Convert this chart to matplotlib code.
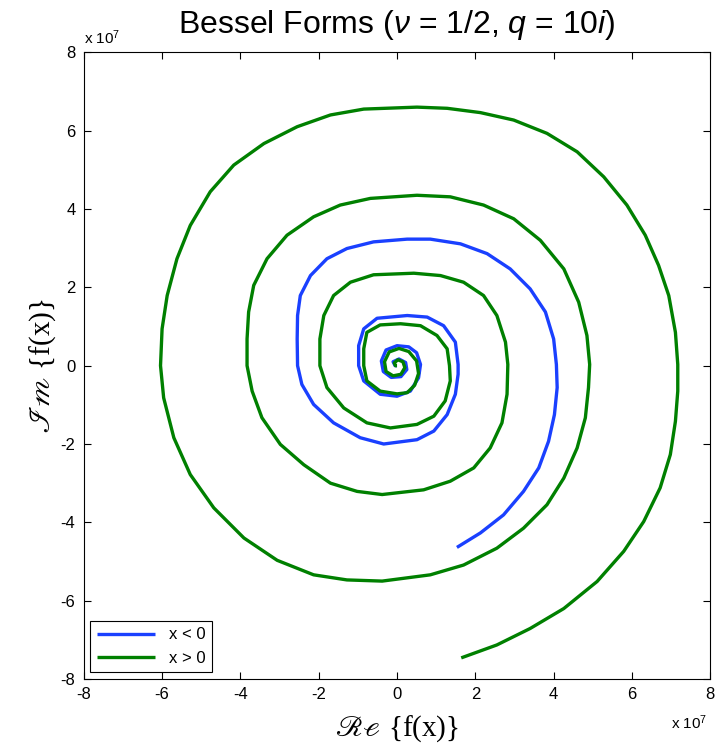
import matplotlib
matplotlib.use("Agg")
import matplotlib.pyplot as plt

# values, in units of 1e7 (outer end -> centre)
neg_re = [1.53, 2.13, 2.72, 3.23, 3.62, 3.87, 4.02, 4.09, 4.07, 4.00, 3.79, 3.40,
          2.89, 2.30, 1.62, 0.85, 0.26, -0.60, -1.28, -1.79, -2.21, -2.47, -2.54,
          -2.55, -2.54, -2.43, -2.13, -1.62, -0.94, -0.34, 0.51, 0.94, 1.28, 1.49,
          1.56, 1.56, 1.49, 1.19, 0.77, 0.26, -0.51, -0.85, -0.98, -0.98, -0.85,
          -0.43, 0.00, 0.34, 0.55, 0.60, 0.50, 0.30, 0.00, -0.28, -0.40, -0.35,
          -0.15, 0.10, 0.25, 0.22, 0.05, -0.10, -0.05, 0.00]
neg_im = [-4.64, -4.27, -3.81, -3.21, -2.61, -1.93, -1.25, -0.56, 0.03, 0.68, 1.37, 1.96,
          2.47, 2.86, 3.11, 3.23, 3.23, 3.16, 2.99, 2.73, 2.30, 1.79, 1.28,
          0.68, 0.00, -0.48, -0.99, -1.46, -1.84, -2.00, -1.89, -1.67, -1.25, -0.73,
          -0.22, 0.03, 0.60, 1.02, 1.24, 1.28, 1.21, 0.94, 0.51, 0.00, -0.39,
          -0.73, -0.78, -0.65, -0.31, 0.03, 0.33, 0.48, 0.51, 0.40, 0.12, -0.15,
          -0.30, -0.28, -0.10, 0.08, 0.17, 0.10, 0.00, 0.00]

pos_re = [1.64, 2.55, 3.40, 4.26, 5.11, 5.79, 6.30, 6.72, 6.98, 7.11, 7.17, 7.17,
          7.11, 6.94, 6.68, 6.34, 5.87, 5.28, 4.60, 3.83, 2.98, 2.13, 1.28, 0.51,
          -0.85, -1.70, -2.55, -3.40, -4.17, -4.77, -5.28, -5.62, -5.87, -6.00, -6.04,
          -5.96, -5.70, -5.28, -4.68, -3.91, -3.06, -2.13, -1.28, -0.38,
          0.85, 1.70, 2.55, 3.23, 3.83, 4.26, 4.60, 4.81, 4.89, 4.92,
          4.85, 4.64, 4.26, 3.66, 2.98, 2.21, 1.36, 0.51,
          -0.68, -1.45, -2.13, -2.81, -3.32, -3.66, -3.79, -3.83, -3.83,
          -3.70, -3.45, -2.98, -2.38, -1.70, -1.02, -0.38,
          0.68, 1.36, 1.96, 2.38, 2.68, 2.81, 2.83,
          2.77, 2.55, 2.21, 1.70, 1.11, 0.43,
          -0.60, -1.19, -1.62, -1.87, -1.97, -1.97,
          -1.79, -1.36, -0.77, -0.17,
          0.51, 0.94, 1.23, 1.36, 1.34,
          1.28, 1.02, 0.60, 0.09,
          -0.43, -0.77, -0.85, -0.85, -0.77, -0.43, 0.00,
          0.26, 0.45, 0.55, 0.50, 0.30, 0.05, -0.20, -0.32, -0.28, -0.10, 0.10,
          0.20, 0.15, 0.02, -0.07, -0.04, 0.00]
pos_im = [-7.46, -7.13, -6.71, -6.20, -5.51, -4.74, -3.98, -3.12, -2.27, -1.42, -0.65, 0.03,
          0.85, 1.79, 2.56, 3.33, 4.10, 4.82, 5.46, 5.93, 6.27, 6.46, 6.57, 6.60,
          6.55, 6.40, 6.10, 5.67, 5.12, 4.44, 3.58, 2.73, 1.79, 0.94, 0.00,
          -0.82, -1.84, -2.78, -3.63, -4.40, -4.97, -5.34, -5.47, -5.50,
          -5.34, -5.09, -4.66, -4.15, -3.55, -2.87, -2.10, -1.33, -0.56, 0.03,
          0.77, 1.62, 2.47, 3.20, 3.75, 4.10, 4.31, 4.35,
          4.27, 4.10, 3.80, 3.33, 2.73, 2.05, 1.37, 0.68, 0.00,
          -0.65, -1.33, -2.01, -2.53, -3.00, -3.21, -3.29,
          -3.17, -2.95, -2.61, -2.10, -1.46, -0.73, 0.03,
          0.60, 1.28, 1.79, 2.13, 2.30, 2.36,
          2.32, 2.13, 1.79, 1.28, 0.68, 0.00,
          -0.56, -1.08, -1.46, -1.59,
          -1.50, -1.29, -0.90, -0.39, 0.00,
          0.43, 0.77, 1.02, 1.07,
          1.04, 0.85, 0.43, 0.00, -0.39, -0.65, -0.72,
          -0.69, -0.50, -0.20, 0.12, 0.36, 0.44, 0.35, 0.10, -0.15, -0.26, -0.22,
          -0.05, 0.10, 0.15, 0.07, 0.00, 0.00]

ticks = [-8, -6, -4, -2, 0, 2, 4, 6, 8]

plt.rcParams['font.family'] = ['Liberation Sans', 'DejaVu Sans']
plt.rcParams['mathtext.fontset'] = 'custom'
plt.rcParams['mathtext.rm'] = 'Liberation Sans'
plt.rcParams['mathtext.it'] = 'Liberation Sans:italic'

fig = plt.figure(figsize=(7.16, 7.47), dpi=100)
ax = fig.add_axes([0.117, 0.091, 0.875, 0.839])

ax.plot(neg_re, neg_im, color='#1a40ff', lw=2.4, label='x < 0',
        solid_capstyle='butt', solid_joinstyle='round')
ax.plot(pos_re, pos_im, color='#008000', lw=2.4, label='x > 0',
        solid_capstyle='butt', solid_joinstyle='round')

ax.set_xlim(-8, 8)
ax.set_ylim(-8, 8)
ax.set_xticks(ticks)
ax.set_yticks(ticks)
ax.set_xticklabels([str(t) for t in ticks])
ax.set_yticklabels([str(t) for t in ticks])
ax.tick_params(direction='in', top=True, right=True, labelsize=12, length=5, pad=6)

ax.set_title(r'Bessel Forms ($\nu$ = 1/2, $q$ = 10$i$)', fontsize=23, pad=14)
ax.set_xlabel(r'$\mathscr{R}\mathscr{e}$ {f(x)}', fontsize=21, labelpad=8,
              family='Liberation Serif', math_fontfamily='stix')
ax.set_ylabel(r'$\mathscr{I}\mathscr{m}$ {f(x)}', fontsize=21, labelpad=2,
              family='Liberation Serif', math_fontfamily='stix')

ax.text(0.0, 1.008, r'x 10$^7$', transform=ax.transAxes, fontsize=11,
        ha='left', va='bottom')
ax.text(0.995, -0.055, r'x 10$^7$', transform=ax.transAxes, fontsize=11,
        ha='right', va='top')

leg = ax.legend(loc='lower left', fontsize=12, fancybox=False, framealpha=1,
                edgecolor='black', handlelength=3.5, borderaxespad=0.4)
leg.get_frame().set_linewidth(0.8)

fig.savefig('out.png', dpi=100)
